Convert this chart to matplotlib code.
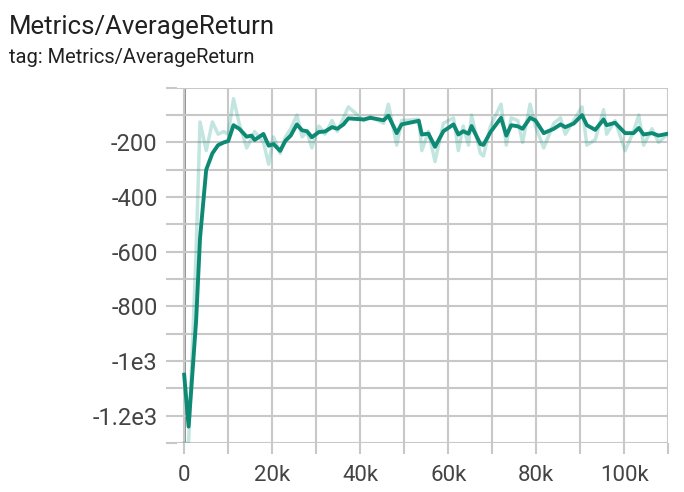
import matplotlib
matplotlib.use("Agg")
import matplotlib.pyplot as plt
import numpy as np

plt.rcParams['font.family'] = ['Roboto', 'DejaVu Sans']

# steps (thousands) and smoothed / raw return values
steps = [0, 1, 2.7, 3.6, 5, 6.4, 7.7, 9, 10, 11.2, 12.5, 14.2, 15.3, 16, 18, 19.2, 20.3, 21.8,
         23, 24.2, 25.6, 26.8, 27.9, 29, 30.6, 32, 33.6, 34.8, 36.2, 37.3, 40.8, 42.3, 45.3,
         46.4, 48.3, 49.4, 53.3, 54, 55.5, 57, 58.9, 61.2, 62.3, 63.4, 64.6, 65.3, 67.3, 68,
         69.6, 72, 73.2, 74.3, 75.8, 76.9, 78.6, 79.8, 81.7, 84, 85.5, 86.6, 88.5, 90.4, 91.5,
         93.4, 95.3, 96, 97.9, 100.2, 102.1, 103.3, 104.4, 106.3, 107.8, 110.5]
smoothed = [-1050, -1240, -855, -550, -300, -240, -210, -200, -195, -137, -150, -179, -175,
            -191, -169, -212, -206, -231, -194, -175, -134, -156, -159, -181, -162, -160, -144,
            -150, -134, -112, -116, -110, -119, -102, -166, -134, -121, -171, -168, -216, -159,
            -134, -171, -159, -168, -140, -206, -209, -162, -110, -175, -137, -141, -150, -110,
            -119, -166, -150, -134, -144, -131, -100, -137, -154, -116, -137, -128, -166, -166,
            -147, -171, -166, -175, -166]
raw = [-1300, -1300, -600, -125, -230, -125, -170, -160, -170, -40, -130, -220, -185,
       -160, -200, -280, -180, -240, -180, -150, -100, -180, -160, -220, -140, -170, -120,
       -160, -110, -70, -120, -105, -130, -60, -210, -120, -115, -230, -160, -270, -130,
       -110, -230, -140, -210, -100, -240, -250, -140, -60, -210, -110, -120, -200, -60,
       -140, -220, -130, -110, -170, -120, -70, -210, -190, -80, -170, -120, -230, -160,
       -100, -210, -150, -200, -160]

x = np.array(steps) * 1000

fig = plt.figure(figsize=(6.84, 4.92), dpi=100)
ax = fig.add_axes([0.259, 0.0996, 0.718, 0.722])

ax.plot(x, raw, color='#0f9b84', alpha=0.25, lw=2.5)
ax.plot(x, smoothed, color='#0e8a74', lw=2.8)
ax.axvline(0, color='#888888', lw=2, zorder=0)

ax.set_xlim(-1600, 110000)
ax.set_ylim(-1300, 0)
ax.set_xticks(np.arange(0, 110001, 10000), minor=False)
ax.set_xticklabels(['0' if v == 0 else ('%dk' % (v // 1000) if v % 20000 == 0 else '')
                    for v in range(0, 110001, 10000)])
ax.set_yticks(np.arange(-1300, 1, 100))
ylab = {-200: '-200', -400: '-400', -600: '-600', -800: '-800', -1000: '-1e3', -1200: '-1.2e3'}
ax.set_yticklabels([ylab.get(v, '') for v in range(-1300, 1, 100)])
ax.grid(True, color='#c8c8c8', lw=1.5)
for s in ax.spines.values():
    s.set_visible(False)
ax.tick_params(colors='#c8c8c8', labelcolor='#444444', length=8, width=1.5)
ax.tick_params(axis='x', labelsize=16, pad=8)
ax.tick_params(axis='y', labelsize=17, pad=6)

fig.text(0.013, 0.93, 'Metrics/AverageReturn', fontsize=18.5, color='#212121')
fig.text(0.013, 0.872, 'tag: Metrics/AverageReturn', fontsize=14.5, color='#212121')

fig.savefig('out.png', dpi=100)
